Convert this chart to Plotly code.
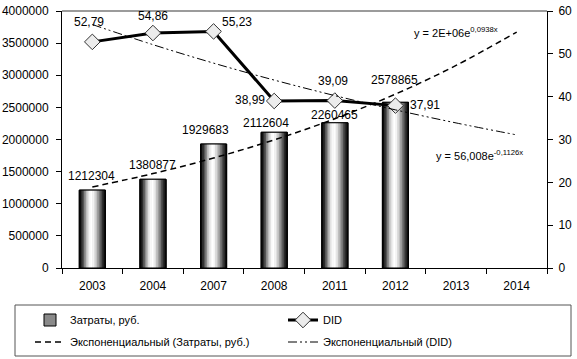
import numpy as np
import plotly.graph_objects as go

# ---------------- data ----------------
years = ['2003', '2004', '2007', '2008', '2011', '2012', '2013', '2014']
costs = [1212304, 1380877, 1929683, 2112604, 2260465, 2578865]
did = [52.79, 54.86, 55.23, 38.99, 39.09, 37.91]
cost_labels = ['1212304', '1380877', '1929683', '2112604', '2260465', '2578865']
did_labels = ['52,79', '54,86', '55,23', '38,99', '39,09', '37,91']
left_ticks = [0, 500000, 1000000, 1500000, 2000000, 2500000, 3000000, 3500000, 4000000]
right_ticks = [0, 10, 20, 30, 40, 50, 60]
eq_cost = 'y = 2E+06e<sup>0,0938x</sup>'
eq_did = 'y = 56,008e<sup>-0,1126x</sup>'
name_cost = 'Затраты, руб.'
name_did = 'DID'
name_cost_trend = 'Экспоненциальный (Затраты, руб.)'
name_did_trend = 'Экспоненциальный (DID)'

# ---------------- styles ----------------
FONT = 'Liberation Sans, Arial, sans-serif'
W, H = 577, 359
n = len(costs)
cats = years[:n]
bar_w = 0.43
grad = ['#0a0a0a', '#2a2a2a', '#555555', '#8a8a8a', '#bdbdbd', '#e2e2e2', '#f8f8f8', '#ffffff',
        '#f4f4f4', '#dedede', '#c0c0c0', '#9c9c9c', '#777777', '#4e4e4e', '#2a2a2a', '#0e0e0e']

# exponential trendlines (least squares on log values, like the spreadsheet)
xs_fit = np.arange(1, n + 1)
xs_all = np.arange(1, len(years) + 1)
b1, a1 = np.polyfit(xs_fit, np.log(costs), 1)
cost_trend = np.exp(a1 + b1 * xs_all)
b2, a2 = np.polyfit(xs_fit, np.log(did), 1)
did_trend = np.exp(a2 + b2 * xs_all)

fig = go.Figure()

# base bar (legend entry)
fig.add_trace(go.Bar(x=cats, y=costs, name=name_cost, width=bar_w,
                     marker=dict(color='#8a8a8a', line=dict(color='black', width=1)),
                     legend='legend', legendrank=1, hoverinfo='skip'))
# gradient stripes
N = len(grad)
sw = bar_w / N
for i, c in enumerate(grad):
    fig.add_trace(go.Bar(x=cats, y=costs, width=sw * 1.3, offset=-bar_w / 2 + i * sw,
                         marker=dict(color=c, line=dict(width=0)),
                         showlegend=False, hoverinfo='skip'))
# outline on top
fig.add_trace(go.Bar(x=cats, y=costs, width=bar_w,
                     marker=dict(color='rgba(0,0,0,0)', line=dict(color='black', width=1)),
                     showlegend=False, hoverinfo='skip'))

# trendline for costs
fig.add_trace(go.Scatter(x=years, y=cost_trend, mode='lines', name=name_cost_trend,
                         line=dict(color='black', width=1.5, dash='6px,4px', shape='spline'),
                         legend='legend2', legendrank=1))
# DID line
fig.add_trace(go.Scatter(x=cats, y=did, mode='lines+markers', name=name_did, yaxis='y2',
                         line=dict(color='black', width=3),
                         marker=dict(symbol='diamond', size=12, color='#ececec',
                                     line=dict(color='#333333', width=1)),
                         legend='legend', legendrank=2))
# trendline for DID
fig.add_trace(go.Scatter(x=years, y=did_trend, mode='lines', name=name_did_trend, yaxis='y2',
                         line=dict(color='black', width=1, dash='9px,3px,2px,3px,2px,3px', shape='spline'),
                         legend='legend2', legendrank=2))

annotations = []
cost_shift = [(-1, 14), (0, 14), (-8, 14), (-8, 9), (0, 8), (-1, 22)]
for i, (v, t, (dx, dy)) in enumerate(zip(costs, cost_labels, cost_shift)):
    annotations.append(dict(x=i, y=v, xref='x', yref='y', text=t, showarrow=False,
                            xshift=dx, yshift=dy, font=dict(size=12, color='black', family=FONT)))
did_shift = [(-3, 20), (0, 17), (23, 9), (-24, 1), (-2, 20), (30, 1)]
for i, (v, t, (dx, dy)) in enumerate(zip(did, did_labels, did_shift)):
    annotations.append(dict(x=i, y=v, xref='x', yref='y2', text=t, showarrow=False,
                            xshift=dx, yshift=dy, font=dict(size=12, color='black', family=FONT)))
annotations.append(dict(x=0.722, y=0.918, xref='paper', yref='paper', text=eq_cost, showarrow=False,
                        xanchor='left', yanchor='middle', font=dict(size=11, color='black', family=FONT)))
annotations.append(dict(x=0.767, y=0.44, xref='paper', yref='paper', text=eq_did, showarrow=False,
                        xanchor='left', yanchor='middle', font=dict(size=11, color='black', family=FONT)))

PW, PH, L, T = 485, 257, 62, 11
def px_x(p):
    return (p - L) / PW
def px_y(p):
    return (T + PH - p) / PH

shapes = [
    dict(type='line', xref='paper', yref='paper', x0=0, x1=1, y0=1, y1=1,
         line=dict(color='#7a7a7a', width=1.5)),
    dict(type='rect', xref='paper', yref='paper', x0=px_x(15), x1=px_x(571), y0=px_y(356), y1=px_y(305),
         line=dict(color='#555555', width=1)),
]

legend_common = dict(orientation='h', xanchor='left', yanchor='middle',
                     entrywidth=208, entrywidthmode='pixels', bgcolor='rgba(0,0,0,0)',
                     font=dict(size=11, family=FONT), borderwidth=0, traceorder='normal')

fig.update_layout(
    width=W, height=H,
    margin=dict(l=L, r=W - L - PW, t=T, b=H - T - PH, autoexpand=False),
    paper_bgcolor='white', plot_bgcolor='white',
    barmode='overlay', bargap=0.57,
    font=dict(family=FONT, size=12, color='black'),
    xaxis=dict(type='category', categoryorder='array', categoryarray=years,
               range=[-0.5, len(years) - 0.5], showline=True, linecolor='black', linewidth=1,
               ticks='outside', tickson='boundaries', ticklen=5, tickcolor='black',
               ticklabelstandoff=7, showgrid=False, tickfont=dict(size=12)),
    yaxis=dict(range=[0, 4000000], tickvals=left_ticks, tickformat='d', showline=True,
               linecolor='black', linewidth=1, ticks='outside', ticklen=5, tickcolor='black',
               ticklabelstandoff=5, showgrid=False, zeroline=False, tickfont=dict(size=12)),
    yaxis2=dict(range=[0, 60], tickvals=right_ticks, overlaying='y', side='right', showline=True,
                linecolor='black', linewidth=1, ticks='outside', ticklen=5, tickcolor='black',
                ticklabelstandoff=3, showgrid=False, zeroline=False, tickfont=dict(size=12)),
    showlegend=True,
    legend=dict(x=px_x(30), y=px_y(320), **legend_common),
    legend2=dict(x=px_x(30), y=px_y(342), **legend_common),
    annotations=annotations, shapes=shapes,
)

fig.write_html('out.html', config={'displayModeBar': False},
               post_script="document.body.style.margin='0';document.body.style.overflow='hidden';")
